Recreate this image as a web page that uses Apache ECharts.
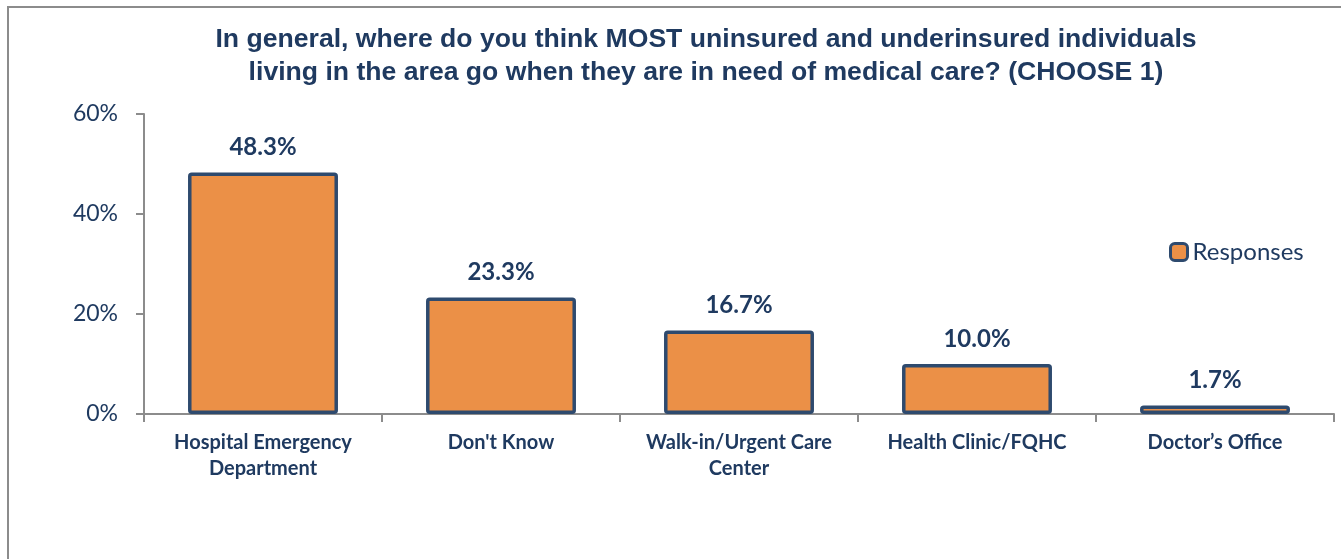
<!DOCTYPE html>
<html>
<head>
<meta charset="utf-8">
<script src="https://cdn.jsdelivr.net/npm/echarts@6/dist/echarts.min.js"></script>
<style>
  html, body { margin: 0; padding: 0; background: #fff; }
  #chart { width: 1341px; height: 559px; }
</style>
</head>
<body>
<div id="chart"></div>
<script>
const categories = [
  'Hospital Emergency\nDepartment',
  "Don't Know",
  'Walk-in/Urgent Care\nCenter',
  'Health Clinic/FQHC',
  'Doctor\u2019s Office'
];
const responses = [48.3, 23.3, 16.7, 10.0, 1.7];
const yTicks = { min: 0, max: 60, interval: 20 };

const navy = '#1F3A60';
const chart = echarts.init(document.getElementById('chart'));

chart.setOption({
  animation: false,
  title: {
    text: 'In general, where do you think MOST uninsured and underinsured individuals\nliving in the area go when they are in need of medical care? (CHOOSE 1)',
    left: 701,
    textAlign: 'center',
    top: 18,
    textStyle: {
      fontFamily: 'Liberation Sans, Arial, sans-serif',
      fontWeight: 'bold',
      fontSize: 26.6,
      lineHeight: 33,
      color: navy
    }
  },
  graphic: [{
    type: 'rect',
    shape: { x: 8, y: 7, width: 1400, height: 600 },
    style: { fill: 'none', stroke: '#8C8C8C', lineWidth: 2 },
    silent: true
  }],
  legend: {
    data: ['Responses'],
    left: 1164,
    top: 235,
    itemWidth: 17,
    itemHeight: 17,
    itemGap: 6,
    itemStyle: { borderColor: '#2E4A6E', borderWidth: 3 },
    textStyle: {
      fontFamily: 'Lato, sans-serif',
      fontSize: 24,
      color: navy
    }
  },
  grid: { left: 144, right: 7, top: 114, bottom: 145 },
  xAxis: {
    type: 'category',
    data: categories,
    axisLine: { lineStyle: { color: '#8C8C8C', width: 2 } },
    axisTick: { show: true, length: 8, alignWithLabel: false, lineStyle: { color: '#8C8C8C', width: 2 } },
    axisLabel: {
      interval: 0,
      margin: 16,
      fontFamily: 'Lato, sans-serif',
      fontWeight: 'bold',
      fontSize: 20,
      lineHeight: 26,
      color: navy
    }
  },
  yAxis: {
    type: 'value',
    min: yTicks.min,
    max: yTicks.max,
    interval: yTicks.interval,
    splitLine: { show: false },
    axisLine: { show: true, lineStyle: { color: '#8C8C8C', width: 2 } },
    axisTick: { show: true, length: 8, lineStyle: { color: '#8C8C8C', width: 2 } },
    axisLabel: {
      margin: 26,
      formatter: '{value}%',
      fontFamily: 'Lato, sans-serif',
      fontSize: 23,
      color: navy
    }
  },
  series: [{
    name: 'Responses',
    type: 'bar',
    data: responses,
    barCategoryGap: '37%',
    itemStyle: {
      color: '#EB9047',
      borderColor: '#2E4A6E',
      borderWidth: 3.5,
      borderRadius: 2
    },
    label: {
      show: true,
      position: 'top',
      distance: 13,
      formatter: p => p.value.toFixed(1) + '%',
      fontFamily: 'Lato, sans-serif',
      fontWeight: 'bold',
      fontSize: 24,
      color: navy
    }
  }]
});
</script>
</body>
</html>
